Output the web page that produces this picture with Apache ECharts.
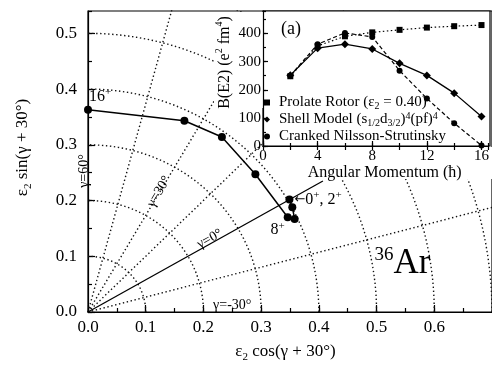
<!DOCTYPE html>
<html>
<head>
<meta charset="utf-8">
<script src="https://cdn.jsdelivr.net/npm/echarts@6/dist/echarts.min.js"></script>
<style>
html, body { margin: 0; padding: 0; background: #fff; }
#chart { width: 492px; height: 369px; }
</style>
</head>
<body>
<div id="chart"></div>
<script>
// deformation path of 36Ar, spin 0/2 up to 16
var pathX = [0.349, 0.354, 0.358, 0.346, 0.290, 0.232, 0.167, 0.0];
var pathY = [0.202, 0.188, 0.167, 0.170, 0.247, 0.314, 0.343, 0.363];

// (eps, gamma) grid
var epsArcs = [0.1, 0.2, 0.3, 0.4, 0.5, 0.6, 0.7];
var gammaRays = [-15, 15, 30, 45];
var gammaZeroEps = 0.47;

// inset: B(E2) vs angular momentum
var spins = [2, 4, 6, 8, 10, 12, 14, 16];
var rotorBE2 = [248, 356, 390, 404, 413, 421, 426, 430];
var shellBE2 = [252, 348, 362, 345, 294, 251, 188, 105];
var crankedBE2 = [250, 362, 402, 388, 268, 169, 81, 2];

var FONT = '"Liberation Serif", "DejaVu Serif", serif';
var rad = Math.PI / 180;

function sub(size) {
    return { fontFamily: FONT, fontSize: size, lineHeight: size, verticalAlign: 'bottom', color: '#000' };
}
function sup(size) {
    return { fontFamily: FONT, fontSize: size, lineHeight: size, verticalAlign: 'top', color: '#000' };
}

function zip(xs, ys) {
    var out = [];
    for (var i = 0; i < xs.length; i++) out.push([xs[i], ys[i]]);
    return out;
}

var dotted = { color: '#111', width: 1.4, type: [1.4, 2.6] };
var series = [];

// arcs of constant eps2
epsArcs.forEach(function (e) {
    var pts = [];
    for (var a = 0; a <= 90; a += 2) pts.push([e * Math.cos(a * rad), e * Math.sin(a * rad)]);
    series.push({
        type: 'line', xAxisIndex: 0, yAxisIndex: 0, data: pts, showSymbol: false, silent: true, z: 1,
        lineStyle: dotted
    });
});

// rays of constant gamma
gammaRays.forEach(function (g) {
    var a = (g + 30) * rad;
    series.push({
        type: 'line', xAxisIndex: 0, yAxisIndex: 0, showSymbol: false, silent: true, z: 1,
        data: [[0, 0], [Math.cos(a), Math.sin(a)]],
        lineStyle: dotted
    });
});

// gamma = 0 (prolate) line
series.push({
    type: 'line', xAxisIndex: 0, yAxisIndex: 0, showSymbol: false, silent: true, z: 2,
    data: [[0, 0], [gammaZeroEps * Math.cos(30 * rad), gammaZeroEps * Math.sin(30 * rad)]],
    lineStyle: { color: '#000', width: 1.3 }
});

// the path
var pathData = zip(pathX, pathY).map(function (p) { return { value: p }; });
pathData[0].label = {
    show: true, position: 'right', distance: 1,
    formatter: '{a|←}0{s|+}, 2{s|+}'
};
pathData[3].label = {
    show: true, position: 'bottom', offset: [-10, -6],
    formatter: '8{s|+}'
};
pathData[7].label = {
    show: true, position: 'top', offset: [12, 6],
    formatter: '16{s|+}'
};
series.push({
    type: 'line', name: 'path', xAxisIndex: 0, yAxisIndex: 0, data: pathData, z: 3, clip: false,
    symbol: 'circle', symbolSize: 8, showAllSymbol: true,
    lineStyle: { color: '#000', width: 1.5 }, itemStyle: { color: '#000' },
    label: {
        fontFamily: FONT, fontSize: 16, lineHeight: 20, color: '#000',
        rich: { s: sup(11), a: { fontFamily: 'DejaVu Sans', fontSize: 13, lineHeight: 20, color: '#000' } }
    }
});

// gamma labels and nucleus name
var annot = [
    { value: [-0.007, 0.253], text: 'γ=60°', rotate: 90 },
    { value: [0.123, 0.216], text: 'γ=30°', rotate: 58.7 },
    { value: [0.211, 0.131], text: 'γ=0°', rotate: 28.7 },
    { value: [0.250, 0.0126], text: 'γ=-30°', rotate: 0 },
    { value: [0.545, 0.086], text: '{sup|36}{big|Ar}', rotate: 0 }
];
series.push({
    type: 'scatter', xAxisIndex: 0, yAxisIndex: 0, symbolSize: 0, clip: false, silent: true, z: 3,
    itemStyle: { color: '#000', opacity: 1 },
    data: annot.map(function (d) {
        return {
            value: d.value,
            label: { show: true, position: 'inside', rotate: d.rotate, formatter: d.text }
        };
    }),
    label: {
        fontFamily: FONT, fontSize: 14, color: '#000', opacity: 1,
        rich: {
            big: { fontFamily: FONT, fontSize: 35, lineHeight: 38, color: '#000' },
            sup: sup(19)
        }
    }
});

// inset series
var INSET = { left: 263, top: 11, width: 227, height: 135 };
series.push({
    type: 'line', name: 'Prolate Rotor', xAxisIndex: 2, yAxisIndex: 2, data: zip(spins, rotorBE2), z: 60,
    symbol: 'rect', symbolSize: 6, lineStyle: { color: '#000', width: 1.2, type: [1.5, 2.5] },
    itemStyle: { color: '#000' }
});
series.push({
    type: 'line', name: 'Shell Model', xAxisIndex: 2, yAxisIndex: 2, data: zip(spins, shellBE2), z: 61,
    symbol: 'diamond', symbolSize: 8, lineStyle: { color: '#000', width: 1.3 },
    itemStyle: { color: '#000' }
});
series.push({
    type: 'line', name: 'Cranked Nilsson-Strutinsky', xAxisIndex: 2, yAxisIndex: 2, data: zip(spins, crankedBE2), z: 60,
    symbol: 'circle', symbolSize: 6, lineStyle: { color: '#000', width: 1.2, type: [4, 2.5] },
    itemStyle: { color: '#000' }
});

var legendText = {
    'Prolate Rotor': 'Prolate Rotor (ε{sb|2} = 0.40)',
    'Shell Model': 'Shell Model (s{sb|1/2}d{sb|3/2}){sp|4}(pf){sp|4}',
    'Cranked Nilsson-Strutinsky': 'Cranked Nilsson-Strutinsky'
};

var line = { lineStyle: { color: '#000', width: 1.2 } };

var option = {
    animation: false,
    backgroundColor: '#fff',
    grid: [
        { left: 88, top: 11, right: -7, bottom: 57, show: true, borderColor: '#000', borderWidth: 1.2, backgroundColor: 'transparent' },
        { left: INSET.left, top: INSET.top, width: INSET.width, height: INSET.height }
    ],
    title: {
        text: '(a)', left: 276, top: 15, z: 60,
        textStyle: { fontFamily: FONT, fontSize: 18, fontWeight: 'normal', color: '#000' }
    },
    legend: {
        orient: 'vertical', left: 264, top: 94, z: 60, itemGap: 0, itemWidth: 6, itemHeight: 6,
        padding: 0, selectedMode: false,
        data: [
            { name: 'Prolate Rotor', icon: 'rect' },
            { name: 'Shell Model', icon: 'diamond' },
            { name: 'Cranked Nilsson-Strutinsky', icon: 'circle' }
        ],
        formatter: function (n) { return legendText[n]; },
        textStyle: {
            fontFamily: FONT, fontSize: 15, lineHeight: 17, color: '#000', padding: [0, 0, 0, 4],
            rich: { sb: sub(10), sp: sup(10) }
        }
    },
    xAxis: [
        {
            gridIndex: 0, type: 'value', min: 0, max: 0.7, interval: 0.1, position: 'bottom',
            axisLine: { show: true, onZero: false, lineStyle: line.lineStyle },
            axisTick: { inside: true, length: 7, lineStyle: line.lineStyle },
            axisLabel: { formatter: function (v) { return v.toFixed(1); }, fontFamily: FONT, fontSize: 17, color: '#000', margin: 7, showMaxLabel: false },
            splitLine: { show: false },
            name: 'ε{sb|2} cos(γ + 30°)', nameLocation: 'middle', nameGap: 29,
            nameTextStyle: { fontFamily: FONT, fontSize: 17, lineHeight: 22, color: '#000', padding: [0, 9, 0, 0], rich: { sb: sub(11) } }
        },
        {
            gridIndex: 0, type: 'value', min: 0, max: 0.7, interval: 0.05, position: 'bottom',
            axisLine: { show: false }, axisTick: { inside: true, length: 4, lineStyle: line.lineStyle },
            axisLabel: { show: false }, splitLine: { show: false }
        },
        {
            gridIndex: 1, type: 'value', min: 0, max: 16.5, interval: 4, position: 'bottom', z: 60,
            axisLine: { show: true, onZero: false, lineStyle: line.lineStyle },
            axisTick: { inside: true, length: 5, lineStyle: line.lineStyle },
            axisLabel: { fontFamily: FONT, fontSize: 15, color: '#000', margin: 3, showMaxLabel: false },
            splitLine: { show: false },
            name: 'Angular Momentum (ħ)', nameLocation: 'middle', nameGap: 17,
            nameTextStyle: { fontFamily: FONT, fontSize: 16, color: '#000', padding: [0, 0, 0, 18] }
        },
        {
            gridIndex: 1, type: 'value', min: 0, max: 16.5, interval: 2, position: 'bottom', z: 60,
            axisLine: { show: false }, axisTick: { inside: true, length: 3, lineStyle: line.lineStyle },
            axisLabel: { show: false }, splitLine: { show: false }
        },
        {
            gridIndex: 1, type: 'value', min: 0, max: 16.5, interval: 2, position: 'top', z: 60,
            axisLine: { show: true, lineStyle: line.lineStyle }, axisTick: { inside: true, length: 4, lineStyle: line.lineStyle },
            axisLabel: { show: false }, splitLine: { show: false }
        }
    ],
    yAxis: [
        {
            gridIndex: 0, type: 'value', min: 0, max: 0.54, interval: 0.1, position: 'left',
            axisLine: { show: true, onZero: false, lineStyle: line.lineStyle },
            axisTick: { inside: true, length: 7, lineStyle: line.lineStyle },
            axisLabel: { formatter: function (v) { return v.toFixed(1); }, fontFamily: FONT, fontSize: 17, color: '#000', margin: 11, showMaxLabel: false },
            splitLine: { show: false },
            name: 'ε{sb|2} sin(γ + 30°)', nameLocation: 'middle', nameGap: 54, nameRotate: 90,
            nameTextStyle: { fontFamily: FONT, fontSize: 17, lineHeight: 22, color: '#000', padding: [0, 0, 0, 28], rich: { sb: sub(11) } }
        },
        {
            gridIndex: 0, type: 'value', min: 0, max: 0.54, interval: 0.05, position: 'left',
            axisLine: { show: false }, axisTick: { inside: true, length: 4, lineStyle: line.lineStyle },
            axisLabel: { show: false }, splitLine: { show: false }
        },
        {
            gridIndex: 1, type: 'value', min: 0, max: 480, interval: 100, position: 'left', z: 60,
            axisLine: { show: true, onZero: false, lineStyle: line.lineStyle },
            axisTick: { inside: true, length: 5, lineStyle: line.lineStyle },
            axisLabel: { fontFamily: FONT, fontSize: 15, color: '#000', margin: 2, showMaxLabel: false },
            splitLine: { show: false },
            name: 'B(E2) (e{sp|2} fm{sp|4})', nameLocation: 'middle', nameGap: 26, nameRotate: 90,
            nameTextStyle: { fontFamily: FONT, fontSize: 16, lineHeight: 20, color: '#000', padding: [0, 0, 0, 32], rich: { sp: sup(10) } }
        },
        {
            gridIndex: 1, type: 'value', min: 0, max: 480, interval: 50, position: 'left', z: 60,
            axisLine: { show: false }, axisTick: { inside: true, length: 3, lineStyle: line.lineStyle },
            axisLabel: { show: false }, splitLine: { show: false }
        }
    ],
    graphic: [
        // inset panel and the blank areas round its labels
        { type: 'rect', z: 50, silent: true, shape: { x: INSET.left, y: INSET.top, width: INSET.width, height: INSET.height },
          style: { fill: '#fff', stroke: '#000', lineWidth: 1.2 } },
        { type: 'rect', z: 50, silent: true, shape: { x: 214, y: 12, width: 49, height: 96 }, style: { fill: '#fff' } },
        { type: 'rect', z: 50, silent: true, shape: { x: 300, y: 147, width: 192, height: 32 }, style: { fill: '#fff' } }
    ],
    series: series
};

var chart = echarts.init(document.getElementById('chart'));
chart.setOption(option);
</script>
</body>
</html>
